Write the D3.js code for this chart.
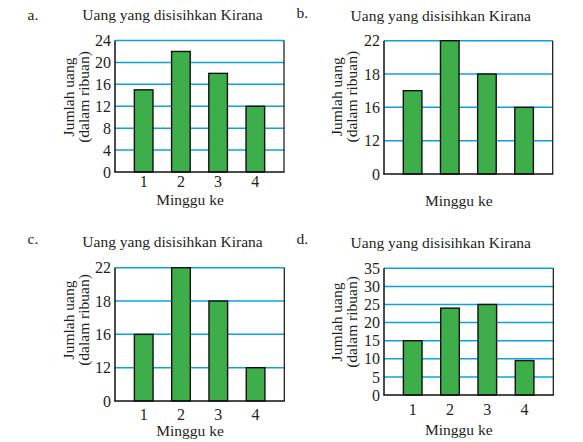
<!DOCTYPE html>
<html>
<head>
<meta charset="utf-8">
<script src="https://cdn.jsdelivr.net/npm/d3@7"></script>
<style>
  html, body { margin: 0; padding: 0; background: #fff; }
  svg { display: block; }
  svg text { font-family: "Liberation Serif", Tinos, "Times New Roman", serif !important; fill: #231f20; }
</style>
</head>
<body>
<svg id="chart" width="583" height="442"></svg>
<script>
// ---- data ----
const categories = ["1", "2", "3", "4"];
const title = "Uang yang disisihkan Kirana";
const xLabel = "Minggu ke";
const yLabel1 = "Jumlah uang";
const yLabel2 = "(dalam ribuan)";

const valuesA = [15, 22, 18, 12];
const ticksA = [0, 4, 8, 12, 16, 20, 24];

const valuesB = [17, 22, 18, 16];
const ticksB = [0, 12, 16, 18, 22];

const valuesC = [16, 22, 18, 12];
const ticksC = [0, 12, 16, 18, 22];

const valuesD = [15, 24, 25, 9.5];
const ticksD = [0, 5, 10, 15, 20, 25, 30, 35];

// ---- layout ----
const panels = [
  { letter: "a.", values: valuesA, ticks: ticksA, linear: true, showX: true,
    left: 115, right: 284, top: 40.5, bottom: 172,
    letterX: 27.5, letterY: 19.5, titleX: 172.5, titleY: 20,
    yl1: 74, yl2: 88.5, ylMid: 97, xtY: 187, xlX: 190, xlY: 204.5 },
  { letter: "b.", values: valuesB, ticks: ticksB, linear: false, showX: false,
    left: 384, right: 552.7, top: 40.7, bottom: 174,
    letterX: 296.5, letterY: 17.5, titleX: 440.8, titleY: 20.5,
    yl1: 342.3, yl2: 356.7, ylMid: 96.7, xtY: 0, xlX: 458.8, xlY: 205.5 },
  { letter: "c.", values: valuesC, ticks: ticksC, linear: false, showX: true,
    left: 115, right: 284.3, top: 267.7, bottom: 401,
    letterX: 27.5, letterY: 244.3, titleX: 172.5, titleY: 247,
    yl1: 74, yl2: 88.5, ylMid: 320, xtY: 420, xlX: 190, xlY: 435.7 },
  { letter: "d.", values: valuesD, ticks: ticksD, linear: true, showX: true,
    left: 384, right: 553.3, top: 268.3, bottom: 395,
    letterX: 296.5, letterY: 243.5, titleX: 440.8, titleY: 247.5,
    yl1: 342.3, yl2: 356.7, ylMid: 322, xtY: 414.5, xlX: 458.8, xlY: 435 }
];

const FONT = "'Liberation Serif', Tinos, 'Times New Roman', serif";
const green = "#3dae4a";
const blue = "#0ea2dc";
const svg = d3.select("#chart").attr("font-family", FONT);

panels.forEach(p => {
  const g = svg.append("g");

  // y scale: linear, or piecewise with equally spaced ticks
  let y;
  if (p.linear) {
    y = d3.scaleLinear().domain([0, d3.max(p.ticks)]).range([p.bottom, p.top]);
  } else {
    const n = p.ticks.length - 1;
    y = d3.scaleLinear().domain(p.ticks)
      .range(p.ticks.map((t, i) => p.bottom - i * (p.bottom - p.top) / n));
  }
  const x = d3.scaleBand().domain(categories).range([p.left, p.right])
    .paddingInner(0.5).paddingOuter(0.52);

  // gridlines
  g.append("g").selectAll("line").data(p.ticks.filter(t => t !== 0)).join("line")
    .attr("x1", p.left).attr("x2", p.right)
    .attr("y1", d => y(d)).attr("y2", d => y(d))
    .attr("stroke", blue).attr("stroke-width", 1.5);

  // bars
  g.append("g").selectAll("rect").data(p.values).join("rect")
    .attr("x", (d, i) => x(categories[i]))
    .attr("width", x.bandwidth())
    .attr("y", d => y(d))
    .attr("height", d => p.bottom - y(d))
    .attr("fill", green).attr("stroke", "#111").attr("stroke-width", 1.4);

  // frame: left, right, bottom
  g.append("line").attr("x1", p.left).attr("x2", p.left).attr("y1", p.top).attr("y2", p.bottom)
    .attr("stroke", "#111").attr("stroke-width", 1.5);
  g.append("line").attr("x1", p.right).attr("x2", p.right).attr("y1", p.top).attr("y2", p.bottom)
    .attr("stroke", "#111").attr("stroke-width", 1.2);
  g.append("line").attr("x1", p.left - 0.75).attr("x2", p.right + 0.6).attr("y1", p.bottom).attr("y2", p.bottom)
    .attr("stroke", "#111").attr("stroke-width", 1.5);

  // y axis tick labels
  const yAxis = d3.axisLeft(y).tickValues(p.ticks).tickSize(0).tickPadding(4).tickFormat(d3.format("d"));
  const ya = g.append("g").attr("transform", `translate(${p.left},0)`).call(yAxis);
  ya.attr("font-family", FONT);
  ya.select(".domain").remove();
  ya.selectAll("text").attr("font-size", 16).attr("fill", "#231f20");

  // x tick labels
  if (p.showX) {
    g.append("g").selectAll("text").data(categories).join("text")
      .attr("x", d => x(d) + x.bandwidth() / 2)
      .attr("y", p.xtY)
      .attr("text-anchor", "middle").attr("font-size", 16).text(d => d);
  }

  // x label
  g.append("text").attr("x", p.xlX).attr("y", p.xlY).attr("text-anchor", "middle")
    .attr("font-size", 15.5).text(xLabel);

  // y label (two lines, rotated)
  g.append("text").attr("transform", `translate(${p.yl1},${p.ylMid}) rotate(-90)`)
    .attr("text-anchor", "middle").attr("font-size", 15.5).text(yLabel1);
  g.append("text").attr("transform", `translate(${p.yl2},${p.ylMid}) rotate(-90)`)
    .attr("text-anchor", "middle").attr("font-size", 15.5).text(yLabel2);

  // title + letter
  g.append("text").attr("x", p.titleX).attr("y", p.titleY).attr("text-anchor", "middle")
    .attr("font-size", 15.5).text(title);
  g.append("text").attr("x", p.letterX).attr("y", p.letterY)
    .attr("font-size", 15.5).text(p.letter);
});
</script>
</body>
</html>
